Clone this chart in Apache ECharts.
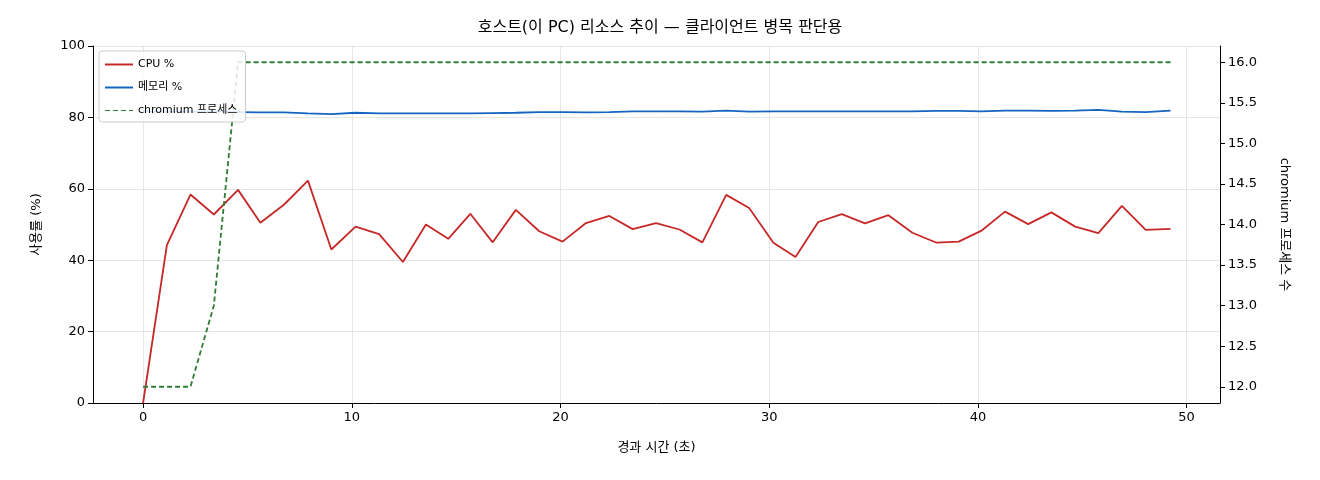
<!DOCTYPE html>
<html><head><meta charset="utf-8">
<script src="https://cdn.jsdelivr.net/npm/echarts@6/dist/echarts.min.js"></script>
<style>html,body{margin:0;background:#fff}#c{width:1320px;height:480px}</style>
</head><body><div id="c"></div>
<script>
const times = [0,1.14,2.27,3.39,4.55,5.62,6.76,7.90,9.02,10.18,11.31,12.45,13.55,14.62,15.68,16.75,17.86,18.98,20.1,21.22,22.34,23.46,24.58,25.7,26.8,27.94,29.04,30.2,31.26,32.35,33.48,34.59,35.71,36.86,38.02,39.08,40.15,41.3,42.41,43.52,44.66,45.77,46.9,48.04,49.23];
const cpu = [0,44.2,58.4,52.8,59.7,50.5,55.6,62.3,43.0,49.4,47.3,39.5,50.0,46.0,53.0,45.0,54.1,48.1,45.2,50.4,52.4,48.7,50.4,48.6,45.0,58.3,54.6,44.9,40.9,50.7,52.9,50.3,52.6,47.7,44.9,45.2,48.2,53.6,50.1,53.4,49.4,47.6,55.2,48.5,48.8];
const mem = [81.6,81.6,81.6,81.6,81.5,81.4,81.4,81.1,80.9,81.3,81.1,81.1,81.1,81.1,81.1,81.2,81.3,81.5,81.5,81.4,81.5,81.7,81.7,81.7,81.6,81.9,81.6,81.7,81.7,81.7,81.7,81.7,81.7,81.7,81.8,81.8,81.7,81.9,81.9,81.8,81.9,82.1,81.6,81.5,81.9];
const procs = [12,12,12,13,16,16,16,16,16,16,16,16,16,16,16,16,16,16,16,16,16,16,16,16,16,16,16,16,16,16,16,16,16,16,16,16,16,16,16,16,16,16,16,16,16];
const xTicks = [0,10,20,30,40,50];
const rTicks = [12,12.5,13,13.5,14,14.5,15,15.5,16];
const zip = a => times.map((t,i)=>[t,a[i]]);
const F = "'DejaVu Sans','Noto Sans CJK KR',sans-serif";
const axLine = {show:true,onZero:false,lineStyle:{color:'#000'}};
const chart = echarts.init(document.getElementById('c'));
chart.setOption({
  animation:false,
  textStyle:{fontFamily:F},
  title:{text:'호스트(이 PC) 리소스 추이 — 클라이언트 병목 판단용',left:'center',top:15,textStyle:{fontSize:16,fontWeight:'normal',color:'#000',fontFamily:F}},
  grid:{left:93,right:100,top:46,bottom:77},
  legend:{orient:'vertical',left:99,top:51,itemWidth:28,itemHeight:2,itemGap:12,padding:[8,8,6,6],
    backgroundColor:'rgba(255,255,255,0.85)',borderColor:'#ccc',borderWidth:1,borderRadius:3,
    textStyle:{fontSize:11,color:'#000',fontFamily:F},
    data:[{name:'CPU %',icon:'rect'},{name:'메모리 %',icon:'rect'},
      {name:'chromium 프로세스',icon:'path://M0,0h5v1h-5zM8,0h5v1h-5zM16,0h5v1h-5zM24,0h4v1h-4z'}]},
  xAxis:{type:'value',min:-2.4,max:51.6,name:'경과 시간 (초)',nameLocation:'middle',nameGap:38,
    nameTextStyle:{fontSize:13,color:'#000'},axisLine:axLine,
    axisTick:{show:true,length:5,customValues:xTicks,lineStyle:{color:'#000'}},
    axisLabel:{fontSize:13,color:'#000',customValues:xTicks},splitLine:{show:true,lineStyle:{color:'#e6e6e6'}}},
  yAxis:[
    {type:'value',min:0,max:100,interval:20,name:'사용률 (%)',nameLocation:'middle',nameGap:50,nameRotate:90,
      nameTextStyle:{fontSize:13,color:'#000'},axisLine:axLine,axisTick:{show:true,length:5,lineStyle:{color:'#000'}},
      axisLabel:{fontSize:13,color:'#000'},splitLine:{show:true,lineStyle:{color:'#e6e6e6'}}},
    {type:'value',min:11.8,max:16.2,position:'right',name:'chromium 프로세스 수',nameLocation:'middle',nameGap:58,nameRotate:-90,
      nameTextStyle:{fontSize:13,color:'#000'},axisLine:axLine,
      axisTick:{show:true,length:5,customValues:rTicks,lineStyle:{color:'#000'}},
      axisLabel:{fontSize:13,color:'#000',customValues:rTicks,formatter:v=>v.toFixed(1)},splitLine:{show:false}}
  ],
  series:[
    {name:'CPU %',type:'line',data:zip(cpu),symbol:'none',lineStyle:{color:'#c62828',width:1.8},itemStyle:{color:'#c62828'}},
    {name:'메모리 %',type:'line',data:zip(mem),symbol:'none',lineStyle:{color:'#1565c0',width:1.8},itemStyle:{color:'#1565c0'}},
    {name:'chromium 프로세스',type:'line',yAxisIndex:1,data:zip(procs),symbol:'none',lineStyle:{color:'#2e7d32',width:1.8,type:[5,3]},itemStyle:{color:'#2e7d32'}}
  ]
});
</script></body></html>
